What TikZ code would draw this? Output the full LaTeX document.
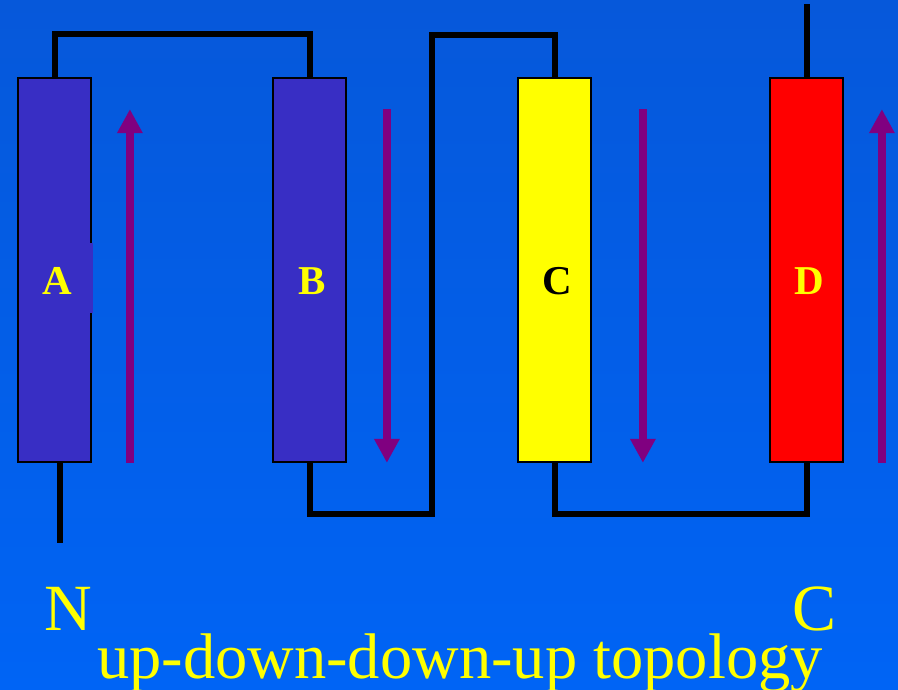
\documentclass[tikz,border=0pt]{standalone}
\usepackage{fontspec}
\setmainfont{Liberation Serif}
\usepackage{tikz}
\usetikzlibrary{positioning, arrows.meta, calc}
\usepackage{xcolor}

\definecolor{bgtop}{RGB}{6,88,218}
\definecolor{bgbottom}{RGB}{0,100,245}
\definecolor{helixblue}{RGB}{56,46,196}
\definecolor{strandyellow}{RGB}{255,255,0}
\definecolor{strandred}{RGB}{255,0,0}
\definecolor{strandpurple}{RGB}{128,0,128}

\begin{document}
\begin{tikzpicture}[
        x=1pt, y=-1pt,
        strand/.style={draw=black, line width=1.8pt, inner sep=0pt,
          minimum width=73pt, minimum height=384pt},
        strandlabel/.style={font=\bfseries\fontsize{41}{41}\selectfont, text=strandyellow},
        link/.style={draw=black, line width=6pt},
        direction/.style={draw=strandpurple, line width=8pt,
          -{Triangle[width=24pt, length=24pt]}},
        endlabel/.style={text=strandyellow, font=\fontsize{66}{66}\selectfont, inner sep=0pt}
      ]
      % background
      \fill[top color=bgtop, bottom color=bgbottom] (0,0) rectangle (898,690);
      \useasboundingbox (0,0) rectangle (898,690);

      % the four strands
      \node[strand, fill=helixblue]    (A) at (54.5,270) {};
      \node[strand, fill=helixblue]    (B) at (309.5,270) {};
      \node[strand, fill=strandyellow] (C) at (554.5,270) {};
      \node[strand, fill=strandred]    (D) at (806.5,270) {};
      \fill[helixblue] (90,243) rectangle (93,313);

      \node[strandlabel] (A-label) at ([xshift=3pt, yshift=-11pt]A.center) {A};
      \node[strandlabel] (B-label) at ([xshift=3pt, yshift=-11pt]B.center) {B};
      \node[strandlabel, text=black] (C-label) at ([xshift=3pt, yshift=-11pt]C.center) {C};
      \node[strandlabel] (D-label) at ([xshift=3pt, yshift=-11pt]D.center) {D};

      % loops between strands
      \draw[link] ([xshift=5pt]A.south) -- ++(0,80);
      \draw[link] (A.north) -- ++(0,-43) -| (B.north);
      \draw[link] (B.south) -- ++(0,51) -| (432,35) -| (C.north);
      \draw[link] (C.south) -- ++(0,51) -| (D.south);
      \draw[link] (D.north) -- ++(0,-73);

      % strand directions
      \draw[direction] ([xshift=38pt]A.south east) -- ([xshift=38pt, yshift=-32pt]A.north east);
      \draw[direction] ([xshift=40pt, yshift=-32pt]B.north east) -- ([xshift=40pt]B.south east);
      \draw[direction] ([xshift=51pt, yshift=-32pt]C.north east) -- ([xshift=51pt]C.south east);
      \draw[direction] ([xshift=38pt]D.south east) -- ([xshift=38pt, yshift=-32pt]D.north east);

      \node[endlabel] (N-term) at (68,609) {N};
      \node[endlabel] (C-term) at (815,609) {C};
      \node[text=strandyellow, font=\fontsize{64.5}{64.5}\selectfont, anchor=base] (caption)
        at (460,678) {up-down-down-up topology};
    \end{tikzpicture}
\end{document}
